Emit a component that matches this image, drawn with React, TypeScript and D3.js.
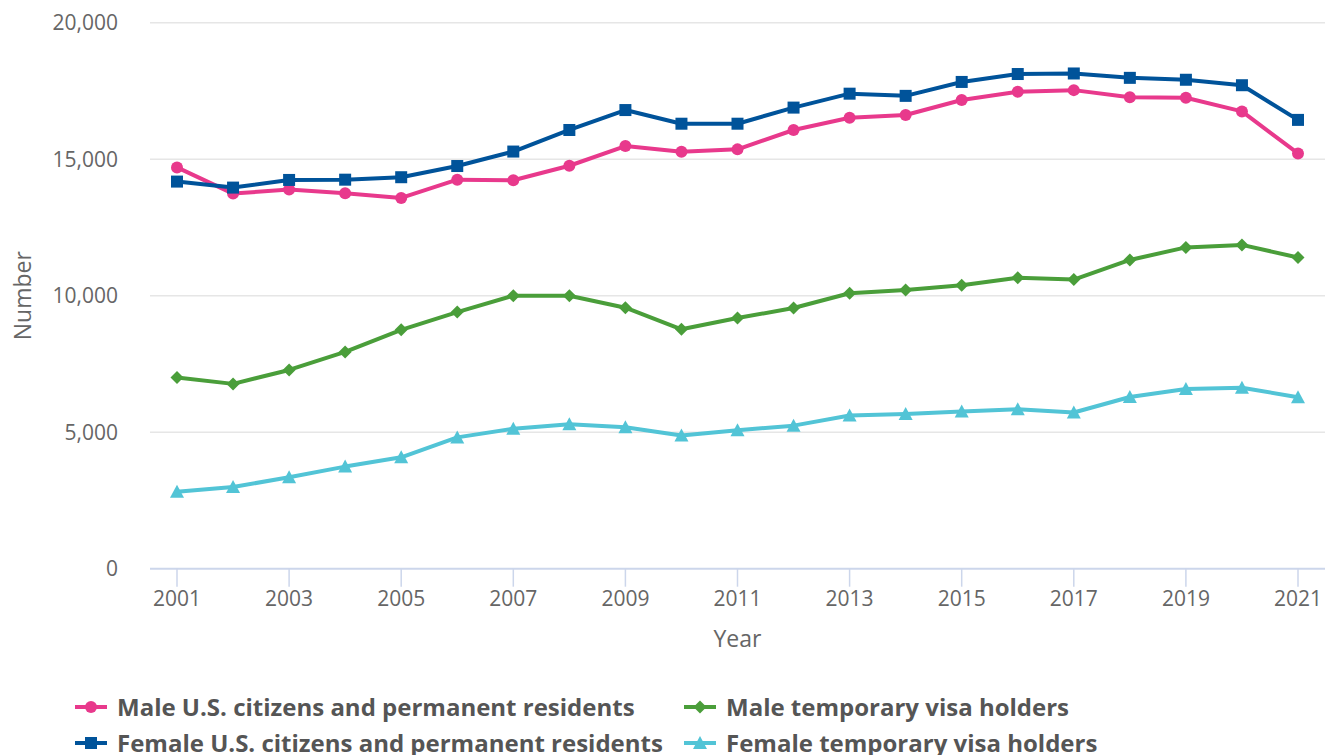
import React from "react";
import * as d3 from "d3";

// years on the x axis
const years = [2001, 2002, 2003, 2004, 2005, 2006, 2007, 2008, 2009, 2010, 2011,
  2012, 2013, 2014, 2015, 2016, 2017, 2018, 2019, 2020, 2021];
const yearTicks = [2001, 2003, 2005, 2007, 2009, 2011, 2013, 2015, 2017, 2019, 2021];
const numberTicks = [0, 5000, 10000, 15000, 20000];

// series values
const maleCitizens = [14700, 13740, 13890, 13750, 13580, 14250, 14230, 14760, 15480, 15270,
  15360, 16070, 16520, 16620, 17170, 17470, 17530, 17270, 17250, 16750, 15210];
const femaleCitizens = [14180, 13960, 14240, 14250, 14340, 14750, 15280, 16070, 16800, 16300,
  16300, 16890, 17400, 17320, 17830, 18120, 18140, 17980, 17910, 17710, 16440];
const maleTemporary = [7000, 6770, 7280, 7940, 8750, 9400, 10000, 10000, 9560, 8770,
  9180, 9550, 10090, 10210, 10380, 10660, 10590, 11310, 11770, 11860, 11400];
const femaleTemporary = [2820, 2990, 3350, 3740, 4080, 4810, 5130, 5290, 5180, 4880,
  5070, 5240, 5610, 5670, 5760, 5840, 5720, 6290, 6580, 6630, 6280];

const seriesNames = [
  "Male U.S. citizens and permanent residents",
  "Male temporary visa holders",
  "Female U.S. citizens and permanent residents",
  "Female temporary visa holders",
];
const seriesValues = [maleCitizens, maleTemporary, femaleCitizens, femaleTemporary];
const seriesColors = ["#e8398c", "#4a9e3a", "#00539a", "#52c4d6"];
const seriesSymbols = ["circle", "diamond", "square", "triangle"];

const W = 1325, H = 755;
const font = "'Open Sans', sans-serif";

// highcharts-like marker shapes
function marker(kind: string, cx: number, cy: number, color: string, key: string) {
  if (kind === "circle") return <circle key={key} cx={cx} cy={cy} r={6} fill={color} />;
  if (kind === "square") return <rect key={key} x={cx - 6} y={cy - 6} width={12} height={12} fill={color} />;
  if (kind === "diamond") {
    const r = 6.5;
    return <path key={key} d={`M${cx},${cy - r}L${cx + r},${cy}L${cx},${cy + r}L${cx - r},${cy}Z`} fill={color} />;
  }
  const r = 7;
  return <path key={key} d={`M${cx},${cy - r}L${cx + r},${cy + r - 1}L${cx - r},${cy + r - 1}Z`} fill={color} />;
}

export default function App() {
  const x = d3.scaleLinear().domain([2001, 2021]).range([177, 1298]);
  const y = d3.scaleLinear().domain([0, 20000]).range([568.7, 22.7]);
  const fmt = d3.format(",");

  const line = d3.line<number>()
    .x((_, i) => x(years[i]))
    .y(d => y(d));

  const legendCols = [75, 684];
  const legendRows = [707, 743];

  return (
    <svg width={W} height={H} style={{ position: "absolute", left: 0, top: 0 }} fontFamily={font}>
      <rect width={W} height={H} fill="#fff" />

      {/* grid lines */}
      {numberTicks.filter(t => t > 0).map(t => (
        <line key={t} x1={150} x2={1325} y1={y(t)} y2={y(t)} stroke="#e6e6e6" strokeWidth={1.5} />
      ))}

      {/* y axis labels */}
      {numberTicks.map(t => (
        <text key={t} x={118} y={y(t) + 7.5} textAnchor="end" fontSize={21} fill="#666">{fmt(t)}</text>
      ))}
      <text transform={`translate(31,${y(10000)}) rotate(-90)`} textAnchor="middle" fontSize={23} fill="#666">Number</text>

      {/* x axis */}
      <line x1={150} x2={1325} y1={y(0)} y2={y(0)} stroke="#ccd6eb" strokeWidth={2} />
      {yearTicks.map(t => (
        <g key={t}>
          <line x1={x(t)} x2={x(t)} y1={y(0)} y2={y(0) + 18} stroke="#ccd6eb" strokeWidth={1.5} />
          <text x={x(t)} y={y(0) + 37.5} textAnchor="middle" fontSize={21} fill="#666">{t}</text>
        </g>
      ))}
      <text x={(150 + 1325) / 2} y={647} textAnchor="middle" fontSize={23} fill="#666">Year</text>

      {/* series */}
      {seriesValues.map((vals, s) => (
        <g key={s}>
          <path d={line(vals) || ""} fill="none" stroke={seriesColors[s]} strokeWidth={4} strokeLinejoin="round" />
          {vals.map((v, i) => marker(seriesSymbols[s], x(years[i]), y(v), seriesColors[s], `${s}-${i}`))}
        </g>
      ))}

      {/* legend */}
      {seriesNames.map((name, s) => {
        const lx = legendCols[s % 2];
        const ly = legendRows[Math.floor(s / 2)];
        return (
          <g key={name}>
            <line x1={lx} x2={lx + 32} y1={ly} y2={ly} stroke={seriesColors[s]} strokeWidth={4} />
            {marker(seriesSymbols[s], lx + 16, ly, seriesColors[s], "m")}
            <text x={lx + 42} y={ly + 9} fontSize={24} fontWeight="bold" fill="#555">{name}</text>
          </g>
        );
      })}
    </svg>
  );
}
